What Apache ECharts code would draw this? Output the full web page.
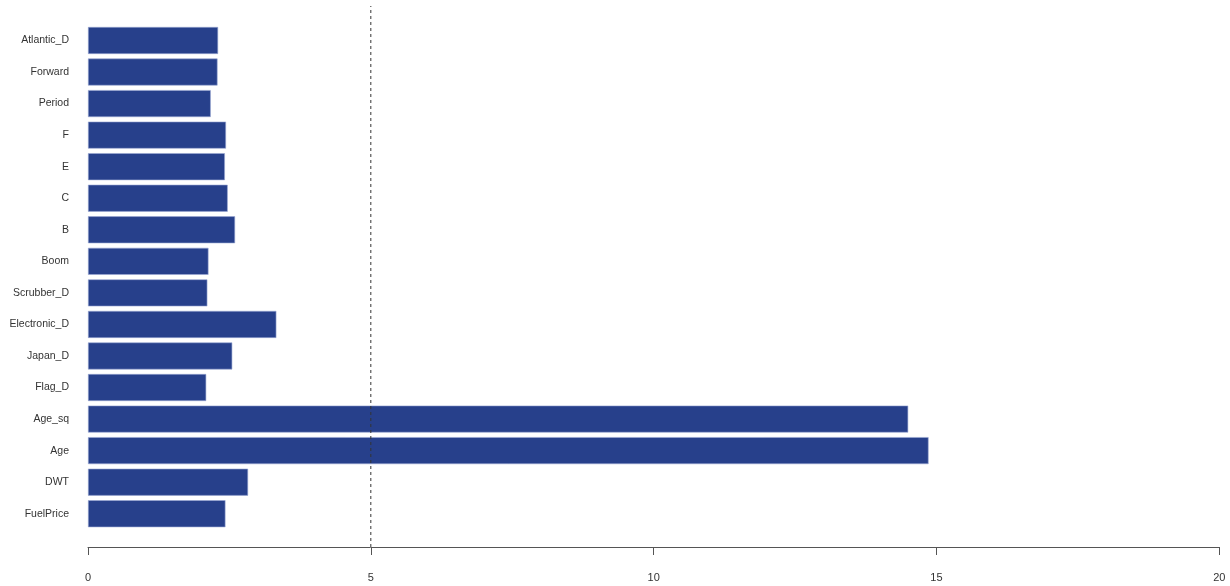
<!DOCTYPE html>
<html>
<head>
<meta charset="utf-8">
<script src="https://cdn.jsdelivr.net/npm/echarts@6/dist/echarts.min.js"></script>
<style>
  html, body { margin: 0; padding: 0; background: #ffffff; }
  #chart { width: 1230px; height: 586px; }
</style>
</head>
<body>
<div id="chart"></div>
<script>
// Variable names, top to bottom
const categories = ['Atlantic_D', 'Forward', 'Period', 'F', 'E', 'C', 'B', 'Boom',
  'Scrubber_D', 'Electronic_D', 'Japan_D', 'Flag_D', 'Age_sq', 'Age', 'DWT', 'FuelPrice'];
// Bar lengths, same order as categories
const values = [2.30, 2.29, 2.17, 2.44, 2.42, 2.47, 2.60, 2.13,
  2.11, 3.33, 2.55, 2.09, 14.50, 14.86, 2.83, 2.43];
// Reference threshold drawn as a dashed vertical line
const threshold = 5;
// x-axis ticks
const xTicks = [0, 5, 10, 15, 20];

const font = 'Liberation Sans, Arial, sans-serif';
const chart = echarts.init(document.getElementById('chart'), null, { renderer: 'canvas' });

chart.setOption({
  backgroundColor: '#ffffff',
  animation: false,
  grid: [
    // bars
    { left: 88, right: 10.7, top: 24.7, bottom: 56.5, containLabel: false },
    // full plot region (threshold line spans it)
    { left: 88, right: 10.7, top: 6, bottom: 39, containLabel: false }
  ],
  xAxis: [
    {
      gridIndex: 0, type: 'value', min: xTicks[0], max: xTicks[xTicks.length - 1], interval: 5,
      position: 'bottom', offset: 17.5,
      axisLine: { show: true, lineStyle: { color: '#555', width: 1 } },
      axisTick: { show: true, length: 8, lineStyle: { color: '#555', width: 1 } },
      axisLabel: { color: '#333', fontFamily: font, fontSize: 11, margin: 25 },
      splitLine: { show: false }
    },
    {
      gridIndex: 1, type: 'value', min: xTicks[0], max: xTicks[xTicks.length - 1],
      show: false
    }
  ],
  yAxis: [
    {
      gridIndex: 0, type: 'category', data: categories, inverse: true,
      axisLine: { show: false }, axisTick: { show: false },
      axisLabel: { color: '#333', fontFamily: font, fontSize: 10.5, margin: 19, padding: [6, 0, 0, 0] },
      splitLine: { show: false }
    },
    {
      gridIndex: 1, type: 'value', min: 0, max: 1, show: false
    }
  ],
  series: [
    {
      type: 'bar', xAxisIndex: 0, yAxisIndex: 0,
      data: values, barWidth: 27,
      itemStyle: { color: '#27408B', borderColor: '#9aa8d4', borderWidth: 0.6 },
      silent: true
    },
    {
      type: 'line', xAxisIndex: 1, yAxisIndex: 1,
      data: [[threshold, 0], [threshold, 1]],
      symbol: 'none',
      lineStyle: { color: '#333', width: 1, type: [3, 3] },
      silent: true, z: 5
    }
  ]
});
</script>
</body>
</html>
